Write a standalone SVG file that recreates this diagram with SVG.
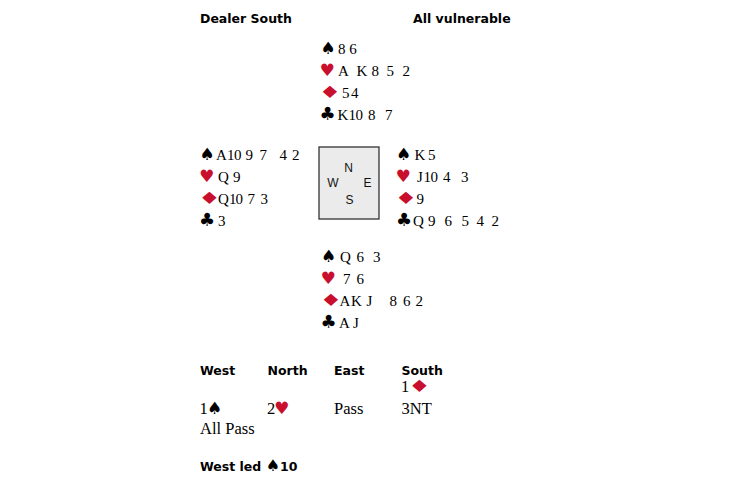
<svg xmlns="http://www.w3.org/2000/svg" width="730" height="486" viewBox="0 0 730 486">
<style>
.hd{font-family:"DejaVu Sans",sans-serif;font-weight:bold;font-size:12.5px;fill:#000}
.c{font-family:"Liberation Serif","Times New Roman",serif;font-size:15px;fill:#000}
.b{font-family:"Liberation Serif","Times New Roman",serif;font-size:16.5px;fill:#000}
.s{font-family:"DejaVu Sans",sans-serif;font-size:17px}
.k{font-family:"DejaVu Sans",sans-serif;font-size:18px;fill:#000}
.blk{fill:#000}
.red{fill:#c8102e}
.cp{font-family:"Liberation Sans",Arial,sans-serif;font-size:12px;fill:#111;text-anchor:middle}
</style>
<defs>
<text id="dia" class="s red" x="0" y="0">♦</text>
</defs>
<rect width="730" height="486" fill="#fff"/>
<g id="header">
<text class="hd" x="200" y="23">Dealer South</text>
<text class="hd" x="413" y="23">All vulnerable</text>
</g>
<g id="north">
<text class="s blk" x="320.5" y="54">♠</text><text class="c" x="338 349.3" y="54">86</text>
<text class="s red" x="319.5" y="76">♥</text><text class="c" x="338 356.5 371.5 386.5 402.5" y="76">AK852</text>
<use href="#dia" transform="translate(318.5,98) scale(1.5,1)"/><text class="c" x="342 351" y="98">54</text>
<text class="k" x="319.5" y="120">♣</text><text class="c" x="337.5 348.5 355.5 368 385" y="120">K1087</text>
</g>
<g id="west">
<text class="s blk" x="199.5" y="160">♠</text><text class="c" x="216 227 234 245.5 259.5 279.5 292" y="160">A109742</text>
<text class="s red" x="199" y="182">♥</text><text class="c" x="218 233" y="182">Q9</text>
<use href="#dia" transform="translate(198,204) scale(1.5,1)"/><text class="c" x="218 229 235.5 247.5 260.5" y="204">Q1073</text>
<text class="k" x="199" y="226">♣</text><text class="c" x="218" y="226">3</text>
</g>
<g id="compass">
<rect x="319" y="147" width="60" height="72" fill="#ebebeb" stroke="#333" stroke-width="1.3"/>
<text class="cp" x="348.5" y="172">N</text>
<text class="cp" x="333" y="187">W</text>
<text class="cp" x="367.5" y="187">E</text>
<text class="cp" x="349.5" y="204">S</text>
</g>
<g id="east">
<text class="s blk" x="396" y="160">♠</text><text class="c" x="414.5 428" y="160">K5</text>
<text class="s red" x="395.5" y="182">♥</text><text class="c" x="417 423.5 430.5 443 461" y="182">J1043</text>
<use href="#dia" transform="translate(394.5,204) scale(1.5,1)"/><text class="c" x="416.5" y="204">9</text>
<text class="k" x="396" y="226">♣</text><text class="c" x="413 428 444.5 461.5 476.5 491.5" y="226">Q96542</text>
</g>
<g id="south">
<text class="s blk" x="321" y="262">♠</text><text class="c" x="340 356.5 373" y="262">Q63</text>
<text class="s red" x="320.5" y="284">♥</text><text class="c" x="343 356.5" y="284">76</text>
<use href="#dia" transform="translate(319.5,306) scale(1.5,1)"/><text class="c" x="339.5 351 366.5 389.5 403 415.5" y="306">AKJ862</text>
<text class="k" x="320.5" y="328">♣</text><text class="c" x="339 353" y="328">AJ</text>
</g>
<g id="auction">
<text class="hd" x="200" y="375">West</text>
<text class="hd" x="267.5" y="375">North</text>
<text class="hd" x="334" y="375">East</text>
<text class="hd" x="401.5" y="375">South</text>
<text class="b" x="401" y="392">1</text><use href="#dia" transform="translate(408,392) scale(1.5,1)"/>
<text class="b" x="199.5" y="414">1</text><text class="s blk" x="207" y="414">♠</text>
<text class="b" x="267" y="414">2</text><text class="s red" x="274" y="414">♥</text>
<text class="b" x="334" y="414">Pass</text>
<text class="b" x="401.5" y="414">3NT</text>
<text class="b" x="200" y="434">All Pass</text>
<text class="hd" x="200" y="471">West led <tspan font-weight="normal" font-size="16px">♠</tspan>10</text>
</g>
</svg>
